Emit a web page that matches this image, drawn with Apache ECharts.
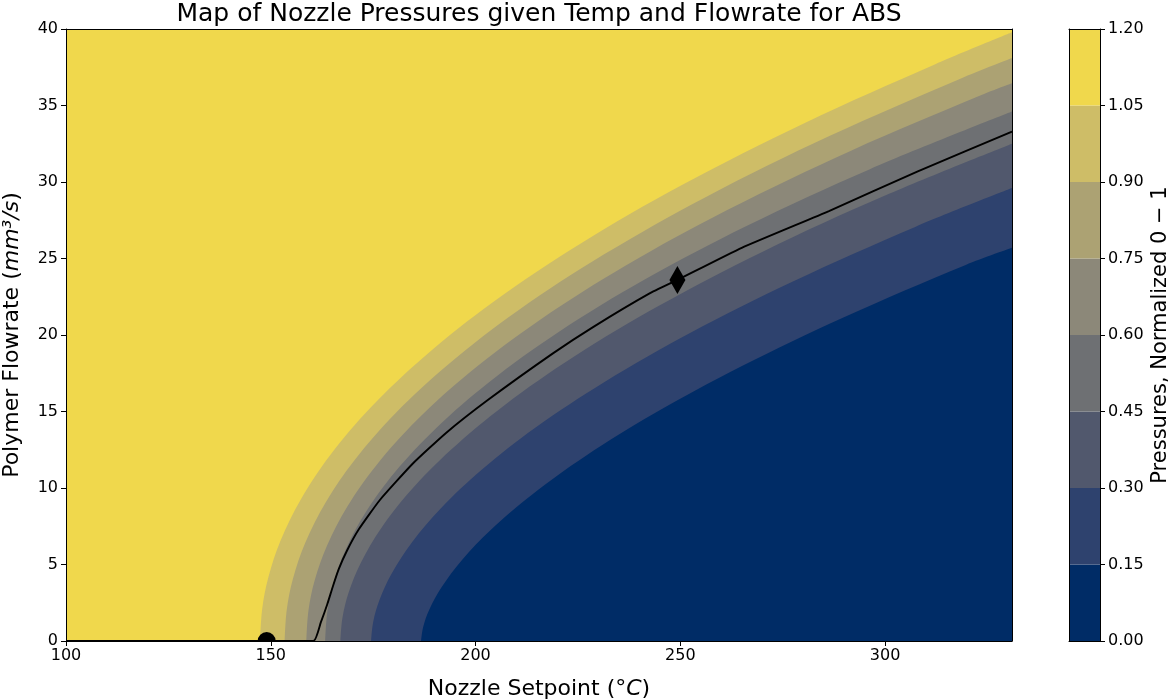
<!DOCTYPE html>
<html><head><meta charset="utf-8">
<script src="https://cdn.jsdelivr.net/npm/echarts@6/dist/echarts.min.js"></script>
<style>html,body{margin:0;padding:0;background:#fff}#c{width:1174px;height:700px}</style>
</head><body><div id="c"></div>
<script>
// ---- data ----
const xTickValues = [100, 150, 200, 250, 300];
const bandLevels = [0, 0.15, 0.30, 0.45, 0.60, 0.75, 0.90, 1.05, 1.20];
const bandColors = ['#002C66', '#2E426E', '#51586D', '#6E7073', '#8C8879', '#ACA273', '#CEBD67', '#F0D84C'];

// contour boundaries (temperature x, flowrate y)
const b105X = [147.4,147.9,149.4,152.4,157.4,164.4,174.4,187.4,204.4,225.4,250.4,280.4,312.4,331];
const b105Y = [0,2.08,4.15,6.57,9.28,12.11,15.26,18.57,22.17,25.93,29.80,33.86,37.71,39.78];
const b090X = [153.4,153.9,155.4,158.4,163.4,170.4,180.4,193.4,210.4,231.4,256.4,286.4,318.4,331];
const b090Y = [0,2.02,4.05,6.40,9.05,11.80,14.87,18.09,21.60,25.27,29.04,33.00,36.75,38.1];
const b075X = [158.7,159.2,160.7,163.7,168.7,175.7,185.7,198.7,215.7,236.7,261.7,291.7,323.7,331];
const b075Y = [0,1.97,3.93,6.21,8.79,11.46,14.44,17.58,20.98,24.54,28.20,32.05,35.70,36.45];
const b060X = [163.3,163.8,165.3,168.3,173.3,180.3,190.3,203.3,220.3,241.3,266.3,296.3,331];
const b060Y = [0,1.89,3.78,5.98,8.46,11.03,13.89,16.91,20.19,23.62,27.14,30.84,34.6];
const b045X = [167.0,167.5,169.0,172.0,177.0,184.0,194.0,207.0,224.0,245.0,270.0,300.0,331];
const b045Y = [0,1.51,3.15,5.12,7.39,9.79,12.50,15.40,18.58,21.94,25.43,29.11,32.5];
const b030X = [174.5,175.0,176.5,179.5,184.5,191.5,201.5,214.5,231.5,252.5,277.5,307.5,331];
const b030Y = [0,1.23,2.65,4.40,6.46,8.66,11.19,13.92,16.93,20.15,23.50,27.08,29.6];
const b015X = [186.7,187.2,188.7,191.7,196.7,203.7,213.7,226.7,243.7,264.7,289.7,319.7,331];
const b015Y = [0,0.90,2.04,3.51,5.30,7.26,9.55,12.06,14.88,17.92,21.13,24.58,25.7];

// black operating curve
const curveX = [100,160.4,162.2,163.8,165.2,166.6,168.6,171.5,176.6,184.7,192.8,203.0,218.9,228.6,242.4,249.3,265,286.3,308,331];
const curveY = [0,0,1.2,2.4,3.6,4.7,5.9,7.3,9.2,11.6,13.6,15.75,18.8,20.5,22.7,23.6,25.7,28.1,30.7,33.3];

// markers
const circlePoint = [149, 0];
const diamondPoint = [249.3, 23.6];

// ---- chart ----
const FONT = 'DejaVu Sans';
const chart = echarts.init(document.getElementById('c'), null, {renderer: 'canvas'});

const boundaries = [
  {x: b105X, y: b105Y, band: 6},
  {x: b090X, y: b090Y, band: 5},
  {x: b075X, y: b075Y, band: 4},
  {x: b060X, y: b060Y, band: 3},
  {x: b045X, y: b045Y, band: 2},
  {x: b030X, y: b030Y, band: 1},
  {x: b015X, y: b015Y, band: 0}
];

const series = [];
boundaries.forEach(b => {
  series.push({
    type: 'line', xAxisIndex: 0, yAxisIndex: 0,
    data: b.x.map((v, i) => [v, b.y[i]]),
    smooth: 0.35, showSymbol: false, symbol: 'none',
    lineStyle: {width: 0, opacity: 0},
    areaStyle: {color: bandColors[b.band], opacity: 1, origin: 'start'},
    silent: true, z: 2
  });
});
series.push({
  type: 'line', xAxisIndex: 0, yAxisIndex: 0,
  data: curveX.map((v, i) => [v, curveY[i]]),
  smooth: 0.15, showSymbol: false, symbol: 'none',
  lineStyle: {color: '#000', width: 1.9}, silent: true, z: 3
});
series.push({
  type: 'scatter', xAxisIndex: 0, yAxisIndex: 0,
  data: [diamondPoint], symbol: 'diamond', symbolSize: [16, 28],
  itemStyle: {color: '#000', opacity: 1}, silent: true, z: 4
});
series.push({
  type: 'custom', xAxisIndex: 0, yAxisIndex: 0,
  data: [circlePoint], silent: true, z: 4,
  renderItem: function (params, api) {
    const p = api.coord([api.value(0), api.value(1)]);
    return {
      type: 'sector',
      shape: {cx: p[0], cy: p[1], r0: 0, r: 9, startAngle: Math.PI, endAngle: 2 * Math.PI, clockwise: true},
      style: {fill: '#000'}
    };
  }
});
for (let i = 0; i < bandColors.length; i++) {
  series.push({
    type: 'bar', xAxisIndex: 2, yAxisIndex: 2, stack: 'cb',
    data: [+(bandLevels[i + 1] - bandLevels[i]).toFixed(4)],
    barWidth: '100%', itemStyle: {color: bandColors[i]}, silent: true
  });
}

const lineOnly = {show: true, onZero: false, lineStyle: {color: '#000', width: 1}};
const tickLabel = {fontSize: 16, color: '#000', fontFamily: FONT};
const nameStyle = {fontSize: 22, color: '#000', fontFamily: FONT,
  rich: {i: {fontSize: 22, fontStyle: 'italic', fontFamily: FONT, color: '#000'}}};

chart.setOption({
  animation: false,
  backgroundColor: '#fff',
  title: {
    text: 'Map of Nozzle Pressures given Temp and Flowrate for ABS',
    left: 539, top: 2, textAlign: 'center', padding: 0,
    textStyle: {fontSize: 25, fontWeight: 'normal', color: '#000', fontFamily: FONT}
  },
  grid: [
    {left: 66, right: 162, top: 29, bottom: 59, show: true, borderWidth: 0,
     backgroundColor: bandColors[7], outerBoundsMode: 'none'},
    {left: 1069, width: 31, top: 29, height: 612, outerBoundsMode: 'none'}
  ],
  xAxis: [
    {gridIndex: 0, type: 'value', min: 100, max: 331, position: 'bottom', z: 10,
     axisLine: lineOnly,
     axisTick: {show: true, length: 5, customValues: xTickValues, lineStyle: {color: '#000'}},
     axisLabel: Object.assign({customValues: xTickValues, margin: 7}, tickLabel),
     splitLine: {show: false},
     name: 'Nozzle Setpoint (°{i|C})', nameLocation: 'middle', nameGap: 37, nameTextStyle: nameStyle},
    {gridIndex: 0, type: 'value', min: 100, max: 331, position: 'top', z: 10,
     axisLine: lineOnly, axisTick: {show: false}, axisLabel: {show: false}, splitLine: {show: false}},
    {gridIndex: 1, type: 'category', data: ['cb'], position: 'bottom', z: 10,
     axisLine: lineOnly, axisTick: {show: false}, axisLabel: {show: false}, splitLine: {show: false}},
    {gridIndex: 1, type: 'category', data: ['cb'], position: 'top', z: 10,
     axisLine: lineOnly, axisTick: {show: false}, axisLabel: {show: false}, splitLine: {show: false}}
  ],
  yAxis: [
    {gridIndex: 0, type: 'value', min: 0, max: 40, interval: 5, position: 'left', z: 10,
     axisLine: lineOnly,
     axisTick: {show: true, length: 5, lineStyle: {color: '#000'}},
     axisLabel: Object.assign({margin: 8}, tickLabel),
     splitLine: {show: false},
     name: 'Polymer Flowrate ({i|mm³/s})', nameLocation: 'middle', nameGap: 43, nameTextStyle: nameStyle},
    {gridIndex: 0, type: 'value', min: 0, max: 40, position: 'right', z: 10,
     axisLine: lineOnly, axisTick: {show: false}, axisLabel: {show: false}, splitLine: {show: false}},
    {gridIndex: 1, type: 'value', min: 0, max: 1.2, interval: 0.15, position: 'right', z: 10,
     axisLine: lineOnly,
     axisTick: {show: true, length: 5, lineStyle: {color: '#000'}},
     axisLabel: Object.assign({margin: 8, formatter: v => v.toFixed(2)}, tickLabel),
     splitLine: {show: false},
     name: 'Pressures, Normalized 0 − 1', nameLocation: 'middle', nameGap: 50,
     nameTextStyle: {fontSize: 21, color: '#000', fontFamily: FONT}},
    {gridIndex: 1, type: 'value', min: 0, max: 1.2, position: 'left', z: 10,
     axisLine: lineOnly, axisTick: {show: false}, axisLabel: {show: false}, splitLine: {show: false}}
  ],
  series: series
});
</script>
</body></html>
